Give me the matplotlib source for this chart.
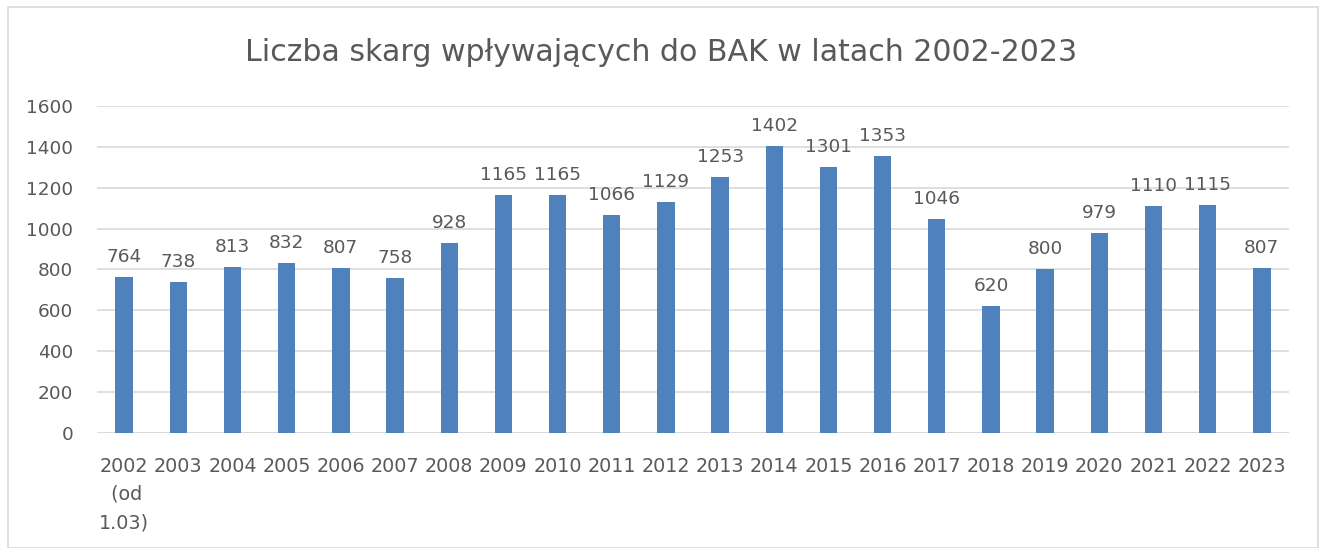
import matplotlib
matplotlib.use('Agg')
import matplotlib.pyplot as plt
from matplotlib.patches import Rectangle

years = ["2002\n (od\n1.03)", "2003", "2004", "2005", "2006", "2007", "2008", "2009",
         "2010", "2011", "2012", "2013", "2014", "2015", "2016", "2017", "2018",
         "2019", "2020", "2021", "2022", "2023"]
complaints = [764, 738, 813, 832, 807, 758, 928, 1165, 1165, 1066, 1129, 1253,
              1402, 1301, 1353, 1046, 620, 800, 979, 1110, 1115, 807]
y_ticks = [0, 200, 400, 600, 800, 1000, 1200, 1400, 1600]

text_color = "#595959"
plt.rcParams['font.family'] = ['DejaVu Sans']

fig = plt.figure(figsize=(13.22, 5.48), dpi=100)
ax = fig.add_axes([0.0734, 0.2099, 0.9016, 0.5967])

x = list(range(len(years)))
ax.bar(x, complaints, width=0.32, color="#4f81bd", zorder=3)
for xi, v in zip(x, complaints):
    ax.annotate(str(v), (xi, v), xytext=(0, 8), textcoords="offset points",
                ha="center", va="bottom", fontsize=13.3, color=text_color)

ax.set_xlim(-0.5, len(years) - 0.5)
ax.set_ylim(0, 1600)
ax.set_yticks(y_ticks)
ax.set_yticklabels([str(t) for t in y_ticks], fontsize=13.3, color=text_color)
ax.set_xticks(x)
ax.set_xticklabels(years, fontsize=13.8, color=text_color, linespacing=1.62, va="top")
ax.tick_params(axis="both", length=0)
ax.tick_params(axis="x", pad=17)
ax.tick_params(axis="y", pad=17)
ax.grid(axis="y", color="#d9d9d9", linewidth=1.2, zorder=0)
for s in ax.spines.values():
    s.set_visible(False)
ax.axhline(0, color="#d9d9d9", linewidth=1.2, zorder=2)

fig.text(0.5, 0.905, "Liczba skarg wpływających do BAK w latach 2002-2023",
         ha="center", va="center", fontsize=21.6, color=text_color)

fig.patches.append(Rectangle((8 / 1322, 0), 1310 / 1322, 1 - 7 / 548,
                             transform=fig.transFigure, fill=False,
                             edgecolor="#d9d9d9", linewidth=1.2))

fig.savefig("out.png", dpi=100)
